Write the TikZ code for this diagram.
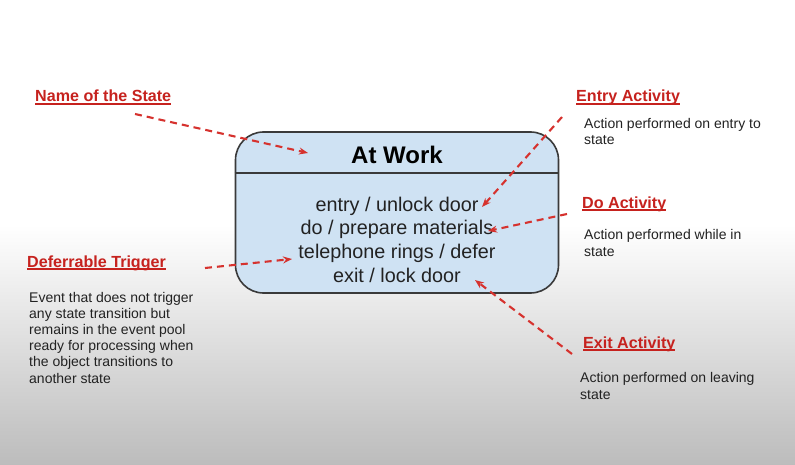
\documentclass[tikz,border=0pt]{standalone}
\usepackage{fontspec}
\setmainfont{Liberation Sans}
\usetikzlibrary{arrows.meta}
\definecolor{lblred}{RGB}{198,34,30}
\definecolor{arrred}{RGB}{214,50,46}
\definecolor{boxblue}{RGB}{207,226,243}
\definecolor{boxline}{RGB}{58,58,58}
\definecolor{txtgray}{RGB}{34,34,34}
\definecolor{bggray}{RGB}{188,188,188}
% underlined red heading
\newcommand{\redul}[1]{\setbox0\hbox{#1}\rlap{\rule[-2.6pt]{\wd0}{1.3pt}}\box0}

\begin{document}
\begin{tikzpicture}[x=1pt,y=-1pt,
	redlbl/.style={anchor=base west,inner sep=0pt,text=lblred,font=\fontsize{16.1}{19}\selectfont\bfseries},
	note/.style={anchor=base west,inner sep=0pt,text=txtgray,align=left,font=\fontsize{14}{16.2}\selectfont},
	actline/.style={anchor=base,inner sep=0pt,text=txtgray,font=\fontsize{19.8}{23}\selectfont},
	callout/.style={draw=arrred,line width=2.1pt,dash pattern=on 7pt off 5pt,-{Stealth[length=9pt,width=7pt]}}]
	
	\useasboundingbox (0,0) rectangle (795,465);
	\fill[white] (0,0) rectangle (795,465);
	\shade[top color=white,bottom color=bggray] (0,225) rectangle (795,465);
	
	% the state
	\node(state) at (397,212.5)[draw=boxline,line width=1.6pt,fill=boxblue,rounded corners=28pt,
		minimum width=323pt,minimum height=161pt,inner sep=0pt]{};
	\draw[boxline,line width=1.6pt] (state.west |- 0,173) -- (state.east |- 0,173);
	\node(title) at (397,164)[anchor=base,inner sep=0pt,font=\fontsize{24}{28}\selectfont\bfseries]{At Work};
	\node(entryln) at (397,212)[actline]{entry / unlock door};
	\node(doln) at (397,235)[actline]{do / prepare materials};
	\node(telln) at (397,258.5)[actline]{telephone rings / defer};
	\node(exitln) at (397,282)[actline]{exit / lock door};
	
	% headings and notes (notes sit on their last line)
	\node(namelbl) at (35,102)[redlbl]{\redul{Name of the State}};
	\node(entrylbl) at (576,102)[redlbl]{\redul{Entry Activity}};
	\node(entrynote) at (584,145)[note]{Action performed on entry to\\state};
	\node(dolbl) at (582,208)[redlbl]{\redul{Do Activity}};
	\node(donote) at (584,256)[note]{Action performed while in\\state};
	\node(deflbl) at (27,267)[redlbl]{\redul{Deferrable Trigger}};
	\node(defnote) at (29,383)[note]{Event that does not trigger\\any state transition but\\remains in the event pool\\ready for processing when\\the object transitions to\\another state};
	\node(exitlbl) at (583,348)[redlbl]{\redul{Exit Activity}};
	\node(exitnote) at (580,399)[note]{Action performed on leaving\\state};
	
	% callouts
	\coordinate(nameS) at (135,114);
	\coordinate(nameT) at (308,153);
	\coordinate(entryS) at (562,117);
	\coordinate(entryT) at (482,207);
	\coordinate(doS) at (567,214);
	\coordinate(doT) at (488,231);
	\coordinate(defS) at (205,268);
	\coordinate(defT) at (292,259);
	\coordinate(exitS) at (572,354);
	\coordinate(exitT) at (475,280);
	\draw[callout] (nameS) -- (nameT);
	\draw[callout] (entryS) -- (entryT);
	\draw[callout] (doS) -- (doT);
	\draw[callout] (defS) -- (defT);
	\draw[callout] (exitS) -- (exitT);
	
\end{tikzpicture}
\end{document}
